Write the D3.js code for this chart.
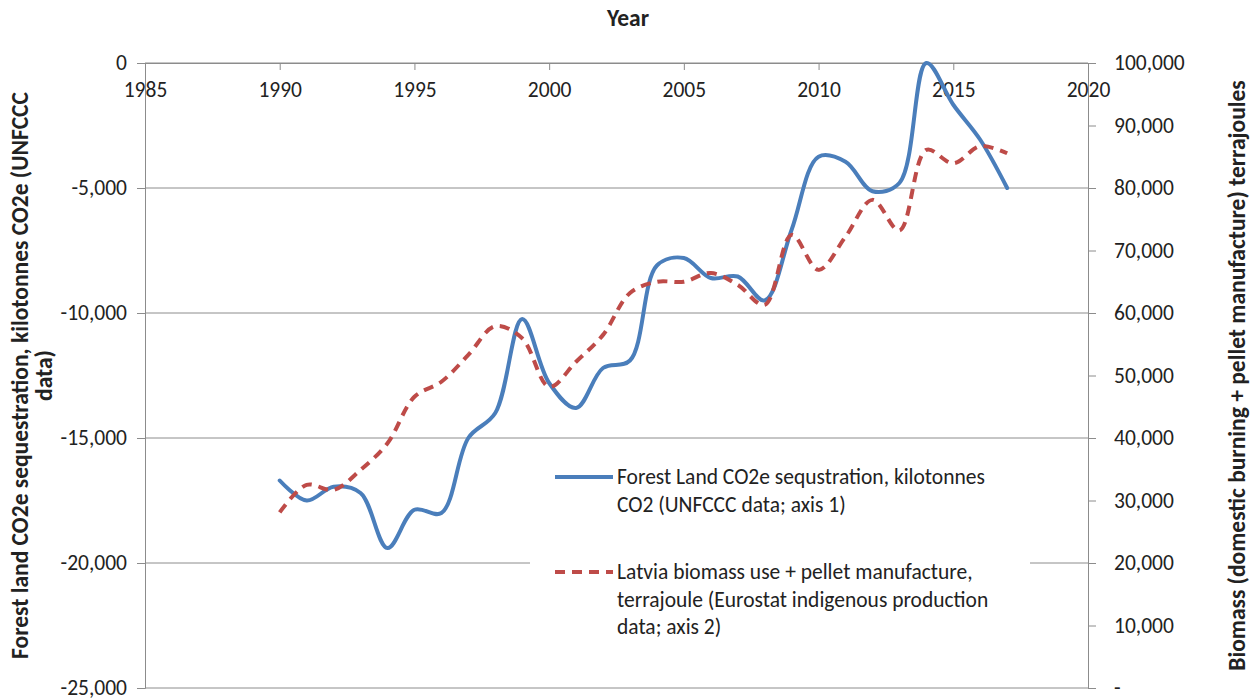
<!DOCTYPE html>
<html>
<head>
<meta charset="utf-8">
<script src="https://cdn.jsdelivr.net/npm/d3@7"></script>
<style>
  body { margin: 0; background: #fff; }
  svg text { font-family: Carlito, Lato, "Open Sans", sans-serif; fill: #222; }
</style>
</head>
<body>
<svg id="chart" width="1251" height="700"></svg>
<script>
const years = d3.range(1990, 2018);

// Forest land CO2e sequestration, kilotonnes (left axis)
const forestCO2 = [
  -16700, -17500, -16950, -17200, -19400, -17870, -18000, -15000, -14000, -10240,
  -12800, -13800, -12200, -11900, -8100, -7800, -8600, -8540, -9500, -6670,
  -3750, -3950, -5130, -4800, 0, -1670, -3070, -5000
];

// Latvia biomass use + pellet manufacture, TJ (right axis)
const biomassTJ = [
  28100, 32500, 31700, 34900, 39150, 46600, 49000, 53300, 57900, 55950,
  48200, 52200, 56500, 63200, 65000, 65000, 66400, 64500, 61300, 72500,
  66900, 72200, 78100, 73200, 86100, 83950, 86700, 85550
];

const xTicks = [1985, 1990, 1995, 2000, 2005, 2010, 2015, 2020];
const leftTicks = [0, -5000, -10000, -15000, -20000, -25000];
const rightTicks = d3.range(0, 100001, 10000);

const legendLabels = [
  ["Forest Land CO2e sequstration, kilotonnes", "CO2 (UNFCCC data; axis 1)"],
  ["Latvia biomass use + pellet manufacture,", "terrajoule (Eurostat indigenous production", "data; axis 2)"]
];

const svg = d3.select("#chart");
const plot = { left: 145, right: 1088, top: 63, bottom: 688 };
const blue = "#4a7ebb", red = "#be4b48", grid = "#8c8c8c";
const fs = 21.5, fsTitle = 23.5;
const fmt = d3.formatLocale({ decimal: ".", thousands: ",", grouping: [3], currency: ["$", ""], minus: "-" }).format(",");

const x = d3.scaleLinear().domain([1985, 2020]).range([plot.left, plot.right]);
const yL = d3.scaleLinear().domain([-25000, 0]).range([plot.bottom, plot.top]);
const yR = d3.scaleLinear().domain([0, 100000]).range([plot.bottom, plot.top]);

// gridlines
svg.append("g")
  .selectAll("line")
  .data(leftTicks)
  .join("line")
  .attr("x1", plot.left).attr("x2", plot.right)
  .attr("y1", d => yL(d)).attr("y2", d => yL(d))
  .attr("stroke", grid).attr("stroke-width", 1);

// left axis
const gL = svg.append("g")
  .attr("transform", `translate(${plot.left},0)`)
  .call(d3.axisLeft(yL).tickValues(leftTicks).tickSize(8).tickPadding(10).tickFormat(fmt));

// right axis
const gR = svg.append("g")
  .attr("transform", `translate(${plot.right},0)`)
  .call(d3.axisRight(yR).tickValues(rightTicks).tickSize(8).tickPadding(18)
    .tickFormat(d => d === 0 ? "-" : fmt(d)));

// top (x) axis with labels under the line
const gX = svg.append("g")
  .attr("transform", `translate(0,${plot.top})`)
  .call(d3.axisBottom(x).tickValues(xTicks).tickSize(7).tickPadding(14).tickFormat(d3.format("d")));

[gL, gR, gX].forEach(g => {
  g.select(".domain").attr("stroke", grid);
  g.selectAll(".tick line").attr("stroke", grid);
  g.selectAll(".tick text").style("font-size", fs + "px").attr("fill", "#222");
});
gX.selectAll(".tick text").attr("dy", "0.62em");

// axis titles
svg.append("text")
  .attr("x", 628).attr("y", 26)
  .attr("text-anchor", "middle")
  .style("font-size", fsTitle + "px").style("font-weight", "bold")
  .text("Year");

const leftTitle = svg.append("text")
  .attr("transform", `translate(28,${(plot.top + plot.bottom) / 2}) rotate(-90)`)
  .attr("text-anchor", "middle")
  .style("font-size", fsTitle + "px").style("font-weight", "bold");
leftTitle.append("tspan").attr("x", 0).attr("y", 0).text("Forest land CO2e sequestration, kilotonnes CO2e (UNFCCC");
leftTitle.append("tspan").attr("x", 0).attr("y", 24).text("data)");

svg.append("text")
  .attr("transform", `translate(1245,${(plot.top + plot.bottom) / 2}) rotate(-90)`)
  .attr("text-anchor", "middle")
  .style("font-size", fsTitle + "px").style("font-weight", "bold")
  .text("Biomass (domestic burning + pellet manufacture) terrajoules");

// series
const lineL = d3.line()
  .x((d, i) => x(years[i]))
  .y(d => yL(d))
  .curve(d3.curveCatmullRom.alpha(0.5));

const lineR = d3.line()
  .x((d, i) => x(years[i]))
  .y(d => yR(d))
  .curve(d3.curveCatmullRom.alpha(0.5));

// legend box (drawn under the lines, over the grid)
const legend = svg.append("g");
legend.append("rect")
  .attr("x", 530).attr("y", 448).attr("width", 500).attr("height", 200)
  .attr("fill", "#fff");

svg.append("path")
  .datum(forestCO2)
  .attr("fill", "none")
  .attr("stroke", blue)
  .attr("stroke-width", 4)
  .attr("stroke-linecap", "round")
  .attr("d", lineL);

svg.append("path")
  .datum(biomassTJ)
  .attr("fill", "none")
  .attr("stroke", red)
  .attr("stroke-width", 4)
  .attr("stroke-dasharray", "10,7")
  .attr("d", lineR);

// legend entries
const entries = [
  { color: blue, dash: null, y: 477, lines: legendLabels[0] },
  { color: red, dash: "10,7", y: 572, lines: legendLabels[1] }
];
entries.forEach(e => {
  legend.append("line")
    .attr("x1", 555).attr("x2", 613)
    .attr("y1", e.y).attr("y2", e.y)
    .attr("stroke", e.color).attr("stroke-width", 4)
    .attr("stroke-dasharray", e.dash);
  const t = legend.append("text")
    .attr("x", 617)
    .style("font-size", fs + "px");
  e.lines.forEach((s, i) => {
    t.append("tspan").attr("x", 617).attr("y", e.y + 7 + i * 27.5).text(s);
  });
});
</script>
</body>
</html>
